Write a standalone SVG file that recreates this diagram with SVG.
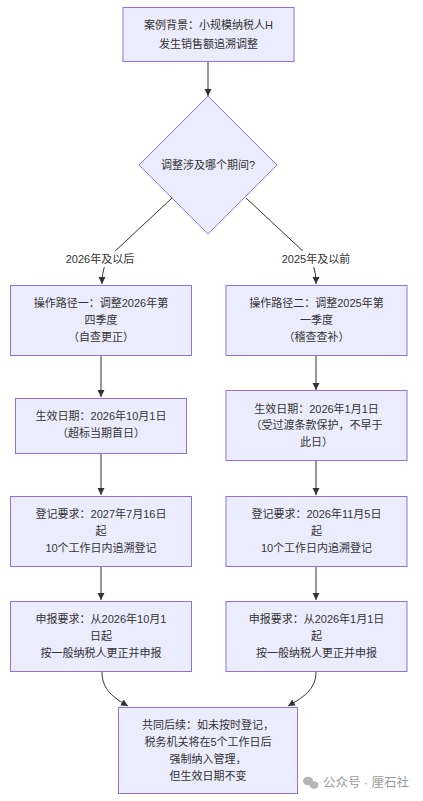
<svg xmlns="http://www.w3.org/2000/svg" width="423" height="801" viewBox="0 0 423 801">
<style>
.node{fill:#ECECFF;stroke:#9370DB;stroke-width:1}
.t{font-family:"Liberation Sans","Noto Sans CJK SC",sans-serif;font-size:11px;fill:#333;text-anchor:middle;dominant-baseline:central}
.e{fill:none;stroke:#333;stroke-width:1}
.lbl{fill:#fff}
.wm{font-family:"Liberation Sans","Noto Sans CJK SC",sans-serif;font-size:12.5px;fill:#9a9a9a}
</style>
<defs>
<marker id="arr" markerUnits="userSpaceOnUse" markerWidth="8" markerHeight="8" refX="7" refY="4" orient="auto">
<path d="M0,0.5 L7,4 L0,7.5 z" fill="#333"/>
</marker>
</defs>
<rect width="423" height="801" fill="#fff"/>
<g id="connectors">
<path class="e" d="M208,62 L208,96" marker-end="url(#arr)"/>
<path class="e" d="M172,198 L112,254 Q102,263 102,284" marker-end="url(#arr)"/>
<path class="e" d="M246,198 L306,254 Q316,263 316,284" marker-end="url(#arr)"/>
<path class="e" d="M101,356 L101,397" marker-end="url(#arr)"/>
<path class="e" d="M316,356 L316,390" marker-end="url(#arr)"/>
<path class="e" d="M101,453 L101,495" marker-end="url(#arr)"/>
<path class="e" d="M316,461 L316,495" marker-end="url(#arr)"/>
<path class="e" d="M101,567 L101,600" marker-end="url(#arr)"/>
<path class="e" d="M316,567 L316,600" marker-end="url(#arr)"/>
<path class="e" d="M102,672 C102,690 114,698 128,706" marker-end="url(#arr)"/>
<path class="e" d="M316,672 C316,690 302,698 288,706" marker-end="url(#arr)"/>
<rect class="lbl" x="64" y="251" width="72" height="16"/>
<text class="t" x="100" y="259">2026年及以后</text>
<rect class="lbl" x="280" y="251" width="72" height="16"/>
<text class="t" x="316" y="259">2025年及以前</text>
</g>
<g id="A">
<rect class="node" x="123" y="7.5" width="171" height="54"/>
<text class="t" x="208.5" y="25">案例背景：小规模纳税人H</text>
<text class="t" x="208.5" y="44">发生销售额追溯调整</text>
</g>
<g id="B">
<polygon class="node" points="208,96 277,165 208,234 139,165"/>
<text class="t" x="208" y="165">调整涉及哪个期间?</text>
</g>
<g id="C">
<rect class="node" x="10.5" y="285.5" width="181" height="70"/>
<text class="t" x="101" y="303">操作路径一：调整2026年第</text>
<text class="t" x="101" y="320">四季度</text>
<text class="t" x="101" y="337">（自查更正）</text>
</g>
<g id="D">
<rect class="node" x="226" y="285.5" width="181" height="70"/>
<text class="t" x="316.5" y="303">操作路径二：调整2025年第</text>
<text class="t" x="316.5" y="320">一季度</text>
<text class="t" x="316.5" y="337">（稽查查补）</text>
</g>
<g id="E">
<rect class="node" x="15.5" y="398.5" width="171" height="55"/>
<text class="t" x="101" y="416">生效日期：2026年10月1日</text>
<text class="t" x="101" y="433">（超标当期首日）</text>
</g>
<g id="F">
<rect class="node" x="226" y="390.5" width="181" height="70"/>
<text class="t" x="316.5" y="409">生效日期：2026年1月1日</text>
<text class="t" x="316.5" y="425">（受过渡条款保护，不早于</text>
<text class="t" x="316.5" y="442">此日）</text>
</g>
<g id="G">
<rect class="node" x="10.5" y="496.5" width="181" height="70"/>
<text class="t" x="101" y="514">登记要求：2027年7月16日</text>
<text class="t" x="101" y="531">起</text>
<text class="t" x="101" y="548">10个工作日内追溯登记</text>
</g>
<g id="H">
<rect class="node" x="226" y="496.5" width="181" height="70"/>
<text class="t" x="316.5" y="514">登记要求：2026年11月5日</text>
<text class="t" x="316.5" y="531">起</text>
<text class="t" x="316.5" y="548">10个工作日内追溯登记</text>
</g>
<g id="I">
<rect class="node" x="10.5" y="601.5" width="181" height="70"/>
<text class="t" x="101" y="619">申报要求：从2026年10月1</text>
<text class="t" x="101" y="636">日起</text>
<text class="t" x="101" y="653">按一般纳税人更正并申报</text>
</g>
<g id="J">
<rect class="node" x="226" y="601.5" width="181" height="70"/>
<text class="t" x="316.5" y="619">申报要求：从2026年1月1日</text>
<text class="t" x="316.5" y="636">起</text>
<text class="t" x="316.5" y="653">按一般纳税人更正并申报</text>
</g>
<g id="K">
<rect class="node" x="118.5" y="707.5" width="179" height="86"/>
<text class="t" x="208" y="725">共同后续：如未按时登记，</text>
<text class="t" x="208" y="742">税务机关将在5个工作日后</text>
<text class="t" x="208" y="759">强制纳入管理，</text>
<text class="t" x="208" y="776">但生效日期不变</text>
</g>
<g id="watermark">
<ellipse cx="308" cy="781" rx="5" ry="4.2" fill="#b5b5b5"/>
<ellipse cx="314" cy="785" rx="4.5" ry="3.8" fill="#b5b5b5"/>
<text class="wm" x="323" y="787">公众号 · 厘石社</text>
</g>
</svg>
